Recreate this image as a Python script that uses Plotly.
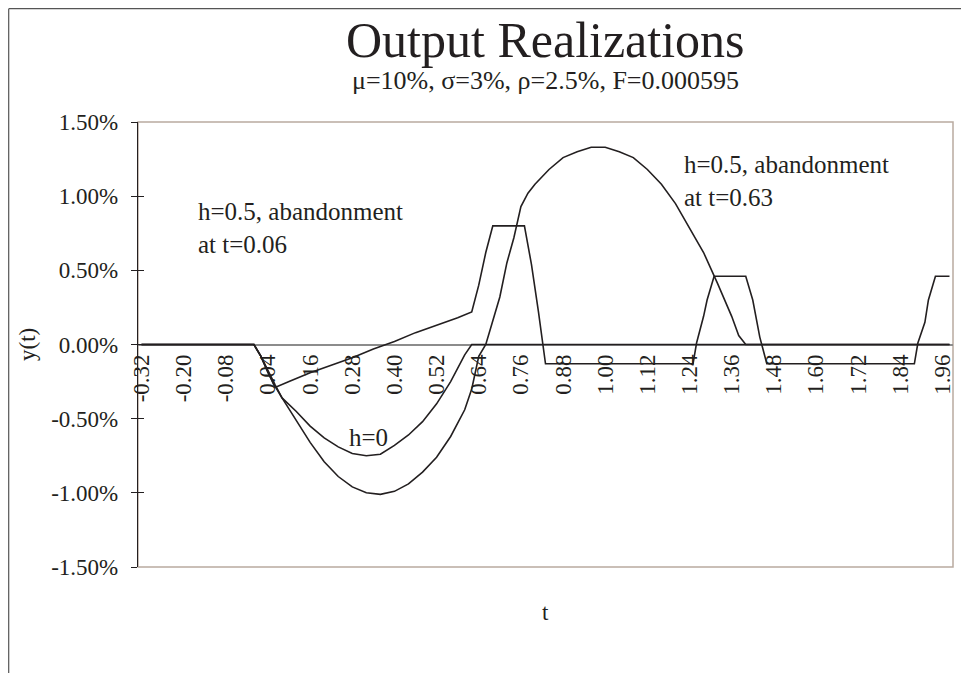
import plotly.graph_objects as go

# ---------------- data (values in percent) ----------------
tick_labels = ["-0.32", "-0.20", "-0.08", "0.04", "0.16", "0.28", "0.40", "0.52", "0.64", "0.76",
               "0.88", "1.00", "1.12", "1.24", "1.36", "1.48", "1.60", "1.72", "1.84", "1.96"]
y_tick_vals = [-1.5, -1.0, -0.5, 0.0, 0.5, 1.0, 1.5]
y_tick_text = ["-1.50%", "-1.00%", "-0.50%", "0.00%", "0.50%", "1.00%", "1.50%"]

# h=0.5, abandonment at t=0.06
s1_t = [-0.32, 0.00, 0.02, 0.04, 0.06, 0.10, 0.16, 0.22, 0.28, 0.34, 0.40, 0.46, 0.52, 0.58, 0.62,
        0.64, 0.66, 0.68, 0.77, 0.79, 0.81, 0.83, 1.25, 1.26, 1.28, 1.29, 1.31, 1.40, 1.42, 1.44,
        1.46, 1.88, 1.89, 1.91, 1.92, 1.94, 1.98]
s1_v = [0, 0, -0.08, -0.18, -0.29, -0.25, -0.19, -0.14, -0.09, -0.03, 0.02, 0.08, 0.13, 0.18, 0.22,
        0.40, 0.62, 0.80, 0.80, 0.54, 0.22, -0.13, -0.13, 0.01, 0.19, 0.30, 0.46, 0.46, 0.30, 0.05,
        -0.13, -0.13, 0.01, 0.15, 0.30, 0.46, 0.46]

# h=0.5, abandonment at t=0.63
s2_t = [-0.32, 0.00, 0.02, 0.04, 0.06, 0.08, 0.12, 0.16, 0.20, 0.24, 0.28, 0.32, 0.36, 0.40, 0.44,
        0.48, 0.52, 0.56, 0.60, 0.62, 1.98]
s2_v = [0, 0, -0.08, -0.19, -0.28, -0.36, -0.45, -0.55, -0.63, -0.69, -0.735, -0.75, -0.74, -0.68,
        -0.61, -0.52, -0.40, -0.25, -0.07, 0, 0]

# h=0
s3_t = [-0.32, 0.00, 0.02, 0.04, 0.06, 0.08, 0.12, 0.16, 0.20, 0.24, 0.28, 0.32, 0.36, 0.40, 0.44,
        0.48, 0.52, 0.56, 0.60, 0.62, 0.64, 0.66, 0.68, 0.70, 0.72, 0.74, 0.76, 0.78, 0.80, 0.84,
        0.88, 0.92, 0.96, 1.00, 1.04, 1.08, 1.12, 1.16, 1.20, 1.24, 1.28, 1.32, 1.36, 1.38, 1.40, 1.98]
s3_v = [0, 0, -0.08, -0.18, -0.27, -0.36, -0.51, -0.66, -0.79, -0.89, -0.96, -1.00, -1.01, -0.99, -0.94,
        -0.86, -0.76, -0.62, -0.44, -0.30, -0.08, 0.00, 0.16, 0.32, 0.55, 0.72, 0.93, 1.02, 1.08, 1.18,
        1.26, 1.30, 1.33, 1.33, 1.30, 1.26, 1.18, 1.08, 0.95, 0.78, 0.62, 0.41, 0.19, 0.06, 0, 0]

# ---------------- layout helpers (screen pixels; page body has an 8px margin) ----------------
OFF = 8
W, H = 969 - OFF, 673 - OFF
L, R, T, B = 138, 953, 122, 567          # plot area in screen pixels
def px(x):
    return (x - L) / (R - L)
def py(y):
    return (B - y) / (B - T)

FONT = "Liberation Serif, Times New Roman, serif"
INK = "#231f20"

fig = go.Figure()
for t, v in [(s2_t, s2_v), (s3_t, s3_v), (s1_t, s1_v)]:
    fig.add_trace(go.Scatter(x=t, y=[a / 100 for a in v], mode="lines",
                             line=dict(color=INK, width=1.6), showlegend=False,
                             hoverinfo="skip"))
fig.add_trace(go.Scatter(x=[None], y=[None], yaxis="y2", showlegend=False, hoverinfo="skip"))

tick_vals = [float(s) for s in tick_labels]

fig.update_layout(
    width=W, height=H,
    margin=dict(l=L - OFF, r=(W + OFF) - R, t=T - OFF, b=(H + OFF) - B, autoexpand=False),
    paper_bgcolor="white", plot_bgcolor="white",
    font=dict(family=FONT, color=INK, size=23),
    xaxis=dict(range=[-0.33, 1.99], anchor="free", position=0.5,
               tickvals=tick_vals, ticktext=tick_labels, tickangle=-90,
               ticks="", showgrid=False, zeroline=False,
               showline=True, linecolor="#8c8c8c", linewidth=1.5,
               layer="below traces", tickfont=dict(size=23), automargin=False),
    yaxis=dict(range=[-0.015, 0.015], tickvals=[v / 100 for v in y_tick_vals], ticktext=y_tick_text,
               ticks="outside", ticklen=6, tickcolor=INK, showgrid=False, zeroline=False,
               showline=True, linecolor=INK, linewidth=1.3, ticklabelstandoff=8,
               tickfont=dict(size=23), automargin=False),
    yaxis2=dict(range=[-0.015, 0.015], tickvals=[v / 100 for v in y_tick_vals], overlaying="y",
                anchor="x", side="left", ticks="inside", ticklen=6, tickcolor=INK,
                showticklabels=False, showgrid=False, zeroline=False, showline=False),
)

# plot-area border and outer chart frame
fig.add_shape(type="rect", xref="paper", yref="paper", x0=0, x1=1, y0=0, y1=1,
              line=dict(color="#b9aaa0", width=1.5), layer="below")
fig.add_shape(type="line", xref="paper", yref="paper", x0=px(OFF + 0.7), x1=px(W + OFF + 5),
              y0=py(OFF + 0.7), y1=py(OFF + 0.7), line=dict(color="#555555", width=1.2))
fig.add_shape(type="line", xref="paper", yref="paper", x0=px(OFF + 0.7), x1=px(OFF + 0.7),
              y0=py(OFF + 0.7), y1=py(H + OFF + 5), line=dict(color="#555555", width=1.2))

def ann(text, x, y, size, xanchor="center", **kw):
    fig.add_annotation(text=text, xref="paper", yref="paper", x=px(x), y=py(y),
                       xanchor=xanchor, yanchor="middle", showarrow=False,
                       font=dict(size=size, family=FONT, color=INK), **kw)

ann("Output Realizations", 545, 40, 50)
ann("μ=10%, σ=3%, ρ=2.5%, F=0.000595", 545, 80, 26)
ann("y(t)", 27, 345, 23, textangle=-90)
ann("t", 545, 612, 23)
ann("h=0.5, abandonment<br>at t=0.06", 196, 228, 25, xanchor="left", align="left")
ann("h=0.5, abandonment<br>at t=0.63", 682, 181, 25, xanchor="left", align="left")
ann("h=0", 368, 437, 25)

fig.write_html("out.html")
